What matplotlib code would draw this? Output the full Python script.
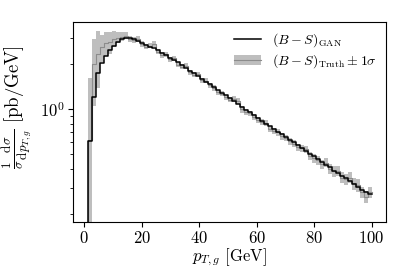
import numpy as np
import matplotlib
matplotlib.use("Agg")
import matplotlib.pyplot as plt
from matplotlib.lines import Line2D
from matplotlib.patches import Patch

plt.rcParams['font.family'] = 'serif'
plt.rcParams['font.serif'] = ['cmr10']
plt.rcParams['mathtext.fontset'] = 'cm'
plt.rcParams['axes.formatter.use_mathtext'] = True
plt.rcParams['font.size'] = 10

bin_edges = np.linspace(0, 100, 73)

gan = [0.10, 0.61, 1.20, 1.74, 2.03, 2.28, 2.50, 2.65, 2.80, 2.95, 3.00, 3.00, 2.95, 2.85,
       2.77, 2.70, 2.62, 2.55, 2.47, 2.38, 2.29, 2.20, 2.12, 2.05,
       1.97, 1.89, 1.81, 1.74, 1.67, 1.60, 1.53, 1.47, 1.41, 1.35,
       1.29, 1.24, 1.19, 1.14, 1.09, 1.04, 0.99, 0.955, 0.915, 0.875,
       0.84, 0.80, 0.77, 0.74, 0.71, 0.68, 0.65, 0.625, 0.60, 0.575,
       0.55, 0.525, 0.505, 0.485, 0.465, 0.445, 0.425, 0.41, 0.39, 0.375,
       0.36, 0.345, 0.33, 0.318, 0.305, 0.29, 0.28, 0.27]

truth = [0.10, 0.62, 2.00, 2.35, 2.60, 2.75, 2.80, 2.95, 3.00, 3.05, 3.10, 2.95, 2.90, 2.95,
         2.72, 2.62, 2.66, 2.72, 2.42, 2.30, 2.33, 2.15, 2.18, 1.98,
         1.92, 1.95, 1.76, 1.70, 1.72, 1.56, 1.55, 1.44, 1.38, 1.30,
         1.27, 1.20, 1.16, 1.17, 1.13, 1.00, 0.96, 0.94, 0.89, 0.85,
         0.82, 0.81, 0.74, 0.72, 0.70, 0.66, 0.64, 0.61, 0.59, 0.56,
         0.55, 0.54, 0.49, 0.47, 0.455, 0.43, 0.44, 0.40, 0.385, 0.39,
         0.35, 0.34, 0.35, 0.32, 0.31, 0.28, 0.26, 0.28]

truth_err = [0.0, 1.00, 0.95, 0.97, 0.55, 0.50, 0.45, 0.35, 0.25, 0.22, 0.18, 0.15, 0.13, 0.13,
             0.11, 0.10, 0.10, 0.12, 0.09, 0.09, 0.09, 0.08, 0.08, 0.08,
             0.07, 0.07, 0.07, 0.07, 0.06, 0.06, 0.06, 0.06, 0.06, 0.05,
             0.05, 0.05, 0.05, 0.05, 0.05, 0.05, 0.04, 0.04, 0.04, 0.04,
             0.04, 0.04, 0.035, 0.035, 0.035, 0.035, 0.03, 0.03, 0.03, 0.03,
             0.03, 0.03, 0.03, 0.03, 0.03, 0.03, 0.03, 0.03, 0.03, 0.03,
             0.03, 0.03, 0.03, 0.03, 0.03, 0.025, 0.025, 0.025]

label_gan = r'$(B-S)_\mathrm{GAN}$'
label_truth = r'$(B-S)_\mathrm{Truth}\pm 1\sigma$'

gan_a = np.array(gan)
tr = np.array(truth)
te = np.array(truth_err)
lo = np.clip(tr - te, 1e-3, None)
hi = tr + te

def ext(a):
    return np.append(a, a[-1])

fig = plt.figure(figsize=(4.07, 2.71), dpi=100)
ax = fig.add_axes([0.179, 0.181, 0.769, 0.738])

band_col = '#bebebe'
line_col = '#8c8c8c'
ax.fill_between(bin_edges, ext(lo), ext(hi), step='post', color=band_col, lw=0)
ax.step(bin_edges, ext(tr), where='post', color=line_col, lw=0.8)
ax.step(bin_edges, ext(gan_a), where='post', color='black', lw=1.1)

ax.set_yscale('log')
ax.set_xlim(-3.95, 104.95)
ax.set_ylim(0.177, 3.82)
ax.set_xticks([0, 20, 40, 60, 80, 100])
ax.tick_params(axis='both', which='major', labelsize=12, pad=2.5)
ax.set_xlabel(r'$p_{T,g}\ \mathrm{[GeV]}$', fontsize=12, labelpad=0)
ax.set_ylabel(r'$\frac{1}{\sigma}\frac{\mathrm{d}\sigma}{\mathrm{d}p_{T,g}}\ \mathrm{[pb/GeV]}$', fontsize=13.5)
ax.yaxis.set_label_coords(-0.125, 0.575)
ax.yaxis.set_minor_formatter(matplotlib.ticker.NullFormatter())

h_gan = Line2D([], [], color='black', lw=1.1)
h_truth = (Patch(facecolor=band_col, edgecolor='none'), Line2D([], [], color=line_col, lw=0.8))
ax.legend([h_gan, h_truth], [label_gan, label_truth], loc='upper right', frameon=False,
          fontsize=10, labelspacing=0.25, handlelength=2.0, handletextpad=0.75,
          borderaxespad=0.25)

fig.savefig('out.png', dpi=100)
